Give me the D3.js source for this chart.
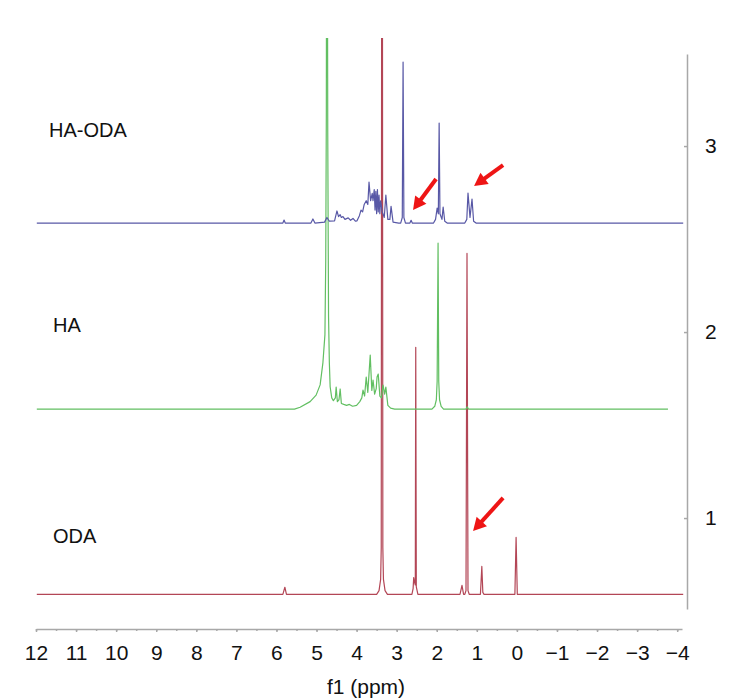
<!DOCTYPE html>
<html>
<head>
<meta charset="utf-8">
<script src="https://cdn.jsdelivr.net/npm/d3@7"></script>
<style>
body { margin: 0; background: #fff; }
svg { display: block; font-family: "Liberation Sans", Arial, sans-serif; }
.axis path, .axis line { stroke: #a8a8a8; stroke-width: 1.5; }
.axis text { fill: #111; font-size: 21px; }
.name { fill: #111; font-size: 20px; }
</style>
</head>
<body>
<div id="chart"></div>
<script>
// spectra, bottom to top
var names = ["ODA", "HA", "HA-ODA"];
var offsets = [0.59, 1.586, 2.586];
var colors = ["#b34656", "#62bf62", "#5858a6"];
var labelAt = [0.866, 2.0, 3.048];

// [ppm, intensity above the trace's own baseline]
var odaTrace = [
    [11.98, 0], [5.84, 0], [5.79, 0.038], [5.75, 0],
    [3.50, 0], [3.44, 0.02], [3.40, 0.08], [3.385, 0.25], [3.375, 3.3], [3.355, 3.3],
    [3.345, 0.25], [3.33, 0.08], [3.29, 0.02], [3.23, 0],
    [2.62, 0], [2.59, 0.03], [2.575, 0.09], [2.56, 0.07], [2.535, 0.05], [2.524, 1.328],
    [2.51, 0.04], [2.47, 0],
    [1.42, 0], [1.37, 0.048], [1.33, 0],
    [1.30, 0], [1.27, 0.02], [1.245, 1.833], [1.22, 0.02], [1.19, 0],
    [0.91, 0], [0.875, 0.15], [0.85, 0.01], [0.82, 0],
    [0.05, 0], [0.02, 0.306], [-0.01, 0],
    [-4.15, 0]
];

var haTrace = [
    [11.98, 0], [5.55, 0], [5.41, 0.01], [5.16, 0.04], [5.01, 0.075], [4.91, 0.13],
    [4.84, 0.25], [4.79, 0.4], [4.77, 0.8], [4.755, 1.6], [4.745, 3.4], [4.735, 3.4],
    [4.72, 1.5], [4.70, 0.5], [4.68, 0.25], [4.66, 0.12], [4.62, 0.06], [4.58, 0.045],
    [4.53, 0.06], [4.51, 0.118], [4.48, 0.04], [4.44, 0.05], [4.41, 0.108], [4.38, 0.03],
    [4.32, 0.025], [4.25, 0.02], [4.18, 0.025], [4.10, 0.015], [4.00, 0.02],
    [3.92, 0.04], [3.87, 0.06], [3.84, 0.102], [3.80, 0.07], [3.76, 0.172], [3.72, 0.09],
    [3.66, 0.29], [3.62, 0.1], [3.59, 0.156], [3.55, 0.08], [3.51, 0.11], [3.49, 0.172],
    [3.46, 0.188], [3.42, 0.07], [3.38, 0.06], [3.34, 0.129], [3.30, 0.08], [3.27, 0.118],
    [3.22, 0.02], [3.15, 0.005], [3.05, 0],
    [2.12, 0], [2.05, 0.015], [2.01, 0.05], [1.99, 0.15], [1.967, 0.892], [1.95, 0.15],
    [1.93, 0.05], [1.89, 0.015], [1.83, 0],
    [1.27, 0], [1.24, 0.012], [1.21, 0],
    [-3.77, 0]
];

var haodaTrace = [
    [11.98, 0], [5.84, 0], [5.81, 0.016], [5.78, 0],
    [5.14, 0], [5.09, 0.022], [5.04, 0],
    [4.80, 0.005], [4.74, 0.03], [4.68, 0.01],
    [4.55, 0.012], [4.49, 0.065], [4.45, 0.035], [4.41, 0.045], [4.38, 0.03], [4.34, 0.035],
    [4.29, 0.02], [4.21, 0.028], [4.15, 0.015], [4.09, 0.025], [4.03, 0.01], [3.99, 0.012],
    [3.93, 0.04], [3.89, 0.07], [3.85, 0.06], [3.81, 0.1], [3.76, 0.12], [3.72, 0.1],
    [3.69, 0.22], [3.65, 0.12], [3.61, 0.16], [3.59, 0.12], [3.56, 0.18], [3.54, 0.07],
    [3.52, 0.17], [3.50, 0.05], [3.48, 0.18], [3.46, 0.06], [3.44, 0.15], [3.42, 0.05],
    [3.40, 0.12], [3.36, 0.06], [3.31, 0.03], [3.27, 0.15], [3.22, 0.02], [3.17, 0.02],
    [3.14, 0.09], [3.09, 0.005], [2.95, 0],
    [2.90, 0], [2.86, 0.03], [2.84, 0.866], [2.82, 0.03], [2.78, 0],
    [2.67, 0], [2.64, 0.015], [2.61, 0],
    [2.08, 0], [2.03, 0.02], [1.99, 0.08], [1.96, 0.05], [1.94, 0.538], [1.92, 0.05],
    [1.87, 0.02], [1.84, 0.086], [1.80, 0.01], [1.74, 0],
    [1.30, 0], [1.25, 0.02], [1.22, 0.161], [1.17, 0.03], [1.12, 0.129], [1.08, 0.01],
    [1.02, 0],
    [-4.15, 0]
];
var traces = [odaTrace, haTrace, haodaTrace];

var xMajor = d3.range(-4, 12.01, 1);
var xMinor = d3.range(-4, 12.01, 0.5);
var yTicks = [1, 2, 3];

// arrows: [tail ppm, tail value, tip ppm, tip value]
var arrows = [
    [2.017, 2.823, 2.591, 2.656],
    [0.345, 2.898, 1.069, 2.785],
    [0.345, 1.108, 1.094, 0.930]
];

var width = 742, height = 700;
var svg = d3.select("#chart").append("svg")
    .attr("width", width)
    .attr("height", height);

var x = d3.scaleLinear().domain([12, -4.12]).range([36, 682]);
var y = d3.scaleLinear().domain([0.511, 3.495]).range([609, 54]);

svg.append("clipPath").attr("id", "clip")
    .append("rect")
    .attr("x", 0).attr("y", 38)
    .attr("width", width).attr("height", height - 38);

// ---------AXES---------
svg.append("g")
    .attr("class", "axis")
    .attr("transform", "translate(0,629)")
    .call(d3.axisBottom(x).tickValues(xMinor).tickSize(2).tickSizeOuter(0).tickFormat(""));

svg.append("g")
    .attr("class", "axis")
    .attr("transform", "translate(0,629)")
    .call(d3.axisBottom(x).tickValues(xMajor).tickSize(3).tickSizeOuter(0).tickPadding(13)
        .tickFormat(d3.format("d")))
    .select(".domain").remove();

svg.append("g")
    .attr("class", "axis")
    .attr("transform", "translate(687,0)")
    .call(d3.axisRight(y).tickValues(yTicks).tickSizeInner(-3).tickSizeOuter(0).tickPadding(18)
        .tickFormat(d3.format("d")));

svg.append("text")
    .attr("class", "name")
    .attr("x", 366)
    .attr("y", 694)
    .attr("text-anchor", "middle")
    .style("font-size", "21px")
    .text("f1 (ppm)");

// ---------SPECTRA---------
var line = d3.line()
    .x(function(d) { return x(d[0]); })
    .y(function(d) { return y(d[1]); });

var plot = svg.append("g").attr("clip-path", "url(#clip)");

traces.forEach(function(t, i) {
    plot.append("path")
        .datum(t.map(function(d) { return [d[0], d[1] + offsets[i]]; }))
        .attr("fill", "none")
        .attr("stroke", colors[i])
        .attr("stroke-width", 1.2)
        .attr("stroke-linejoin", "round")
        .attr("d", line);
});

names.forEach(function(n, i) {
    svg.append("text")
        .attr("class", "name")
        .attr("x", i == 2 ? 49 : 53)
        .attr("y", y(labelAt[i]))
        .text(n);
});

// ---------ARROWS---------
arrows.forEach(function(a) {
    var x0 = x(a[0]), y0 = y(a[1]), x1 = x(a[2]), y1 = y(a[3]);
    var len = Math.sqrt((x1 - x0) * (x1 - x0) + (y1 - y0) * (y1 - y0));
    var ux = (x1 - x0) / len, uy = (y1 - y0) / len;
    var hl = 13, hw = 7;
    var bx = x1 - ux * hl, by = y1 - uy * hl;
    svg.append("line")
        .attr("x1", x0).attr("y1", y0)
        .attr("x2", bx + ux * 2).attr("y2", by + uy * 2)
        .attr("stroke", "#ee1515")
        .attr("stroke-width", 4);
    svg.append("polygon")
        .attr("points", [
            [x1, y1],
            [bx - uy * hw, by + ux * hw],
            [bx + uy * hw, by - ux * hw]
        ].join(" "))
        .attr("fill", "#ee1515");
});
</script>
</body>
</html>
